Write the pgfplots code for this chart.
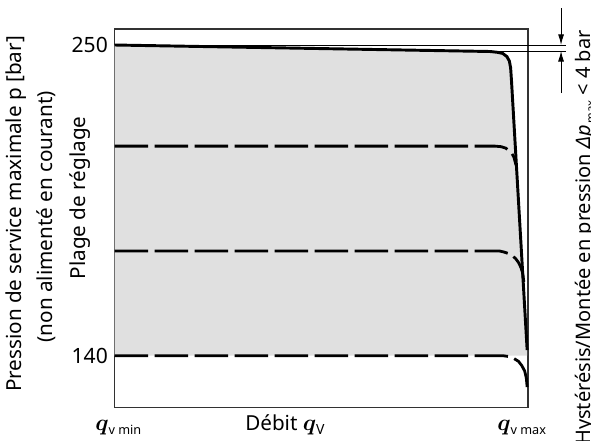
\documentclass[border=0pt]{standalone}
\usepackage{fontspec}
\setmainfont{Noto Sans}
\usepackage{bm}
\usepackage{pgfplots}
\pgfplotsset{compat=1.18}
\usetikzlibrary{arrows.meta}
\definecolor{fillgray}{RGB}{224,224,224}
\definecolor{boxgray}{RGB}{50,50,50}
\newcommand{\qq}{{\fontsize{18.5}{18.5}\selectfont$\bm{q}$}}
\begin{document}
\begin{tikzpicture}[x=1pt,y=1pt,font=\fontsize{15.5}{18.6}\selectfont]
\useasboundingbox (0,0) rectangle (443.25,330.75);
\begin{axis}[
  at={(86.0pt,24.98pt)}, anchor=south west,
  scale only axis, width=309.98pt, height=284.0pt,
  xmin=0, xmax=100, ymin=121.59, ymax=255.66,
  xtick=\empty, ytick={140,250}, yticklabels={140,250},
  ytick style={draw=none},
  yticklabel style={anchor=east, xshift=-1.6pt, font=\fontsize{15.8}{18.6}\selectfont},
  axis line style={boxgray, line width=0.9pt},
  clip=false,
]
% gray adjustment range
\addplot[fill=fillgray, draw=none] coordinates {
 (0,140) (0,250) (90.8,247.7) (92.7,247.4) (93.9,247.0) (94.9,245.9)
 (95.5,244.3) (95.8,241.9) (96.0,237.6) (99.8,142.0) (99.8,140)} -- cycle;
% dashed settings
\addplot[black, line width=2.1pt, dash pattern=on 25pt off 5pt, line join=round] coordinates {
 (0,214.2) (92.0,214.2) (93.5,214.0) (94.6,213.5) (95.4,212.6) (96.1,211.6) (96.6,210.3) (97.1,207.5)};
\addplot[black, line width=2.1pt, dash pattern=on 25pt off 5pt, line join=round] coordinates {
 (0,177.1) (93.0,177.1) (94.2,176.7) (95.2,176.2) (96.1,175.5) (97.0,174.4) (97.7,173.0) (98.3,171.2) (98.7,169.3) (99.0,166.1)};
\addplot[black, line width=2.1pt, dash pattern=on 25pt off 5pt, line join=round] coordinates {
 (0,140) (93.9,140) (95.4,139.7) (96.6,139.0) (97.7,138.0) (98.5,136.5) (99.2,134.6) (99.6,132.1) (99.8,128.9)};
% max pressure curve
\addplot[black, line width=2.2pt, line join=round] coordinates {
 (0,250) (90.8,247.7) (92.7,247.4) (93.9,247.0) (94.9,245.9)
 (95.5,244.3) (95.8,241.9) (96.0,237.6) (99.8,142.0)};
% hysteresis lines
\addplot[black, line width=0.6pt] coordinates {(0,250) (109.2,250)};
\addplot[black, line width=0.6pt] coordinates {(73.9,247.9) (109.2,247.9)};
\addplot[black, line width=0.7pt, -{Latex[length=8pt,width=4.5pt]}] coordinates {(108.0,263.1) (108.0,250)};
\addplot[black, line width=0.7pt, -{Latex[length=8pt,width=4.5pt]}] coordinates {(108.0,233.0) (108.0,247.9)};
\end{axis}
\node[rotate=90] at (12.0,170.25) {Pression de service maximale p [bar]};
\node[rotate=90] at (34.5,168.2) {(non alimenté en courant)};
\node[rotate=90] at (60.0,182.25) {Plage de réglage};
\node[anchor=base west, inner sep=0pt] at (71.25,7.5) {\qq\raisebox{-2.5pt}{\fontsize{9.5}{9.5}\selectfont v min}};
\node[anchor=base west, inner sep=0pt] at (183.75,7.5) {Débit \qq\raisebox{-2.5pt}{\fontsize{10.5}{10.5}\selectfont V}};
\node[anchor=base west, inner sep=0pt] at (372.75,7.5) {\qq\raisebox{-2.5pt}{\fontsize{9.5}{9.5}\selectfont v max}};
\node[rotate=90, anchor=base east, inner sep=0pt, font=\fontsize{15}{18}\selectfont] at (443.0,308.25) {Hystérésis/Montée en pression \textit{Δp}\raisebox{-3pt}{\fontsize{8.5}{8.5}\selectfont\,max} < 4 bar};
\end{tikzpicture}
\end{document}
